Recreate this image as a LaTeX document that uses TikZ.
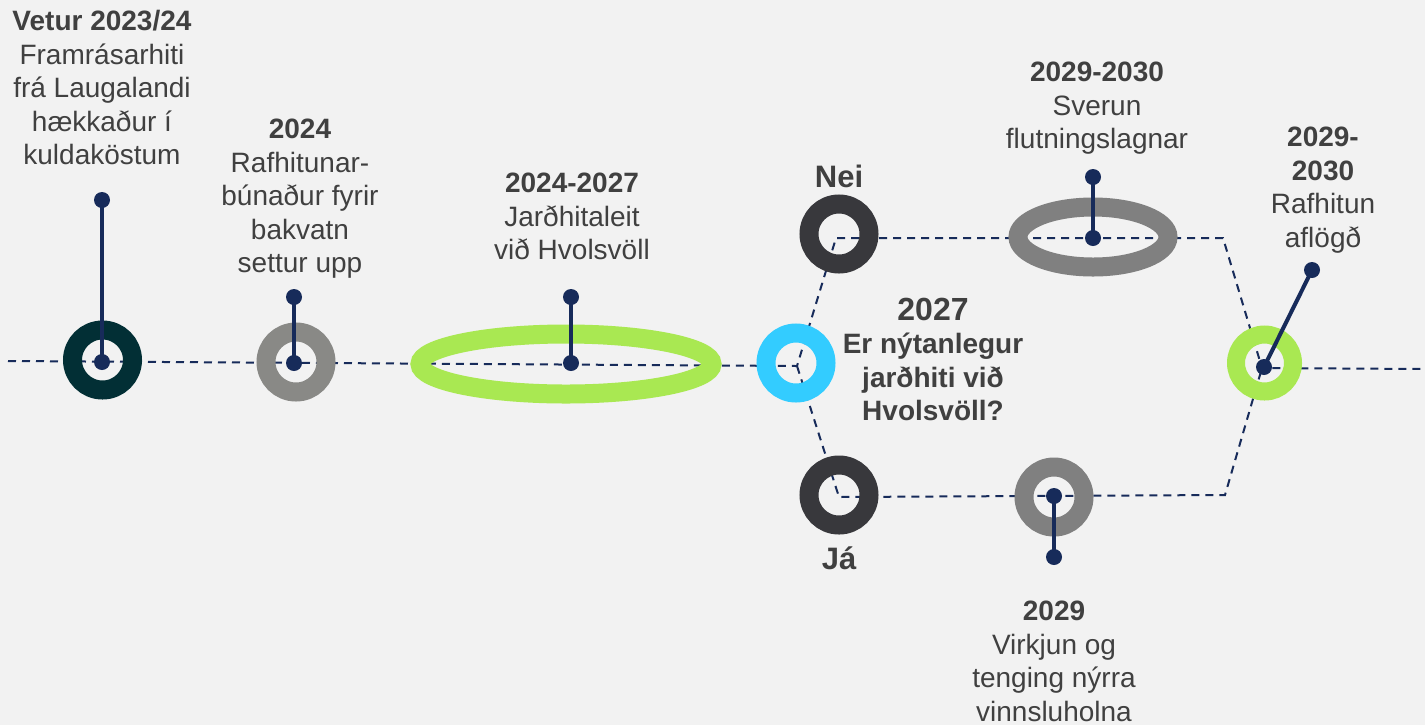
\documentclass[tikz,border=0pt]{standalone}
\usepackage{fontspec}
\setmainfont{Liberation Sans}
\usetikzlibrary{shapes.geometric}

\definecolor{navy}{HTML}{172B5A}
\definecolor{txt}{HTML}{404040}
\definecolor{bgrey}{HTML}{F2F2F2}
\definecolor{ringteal}{HTML}{022F35}
\definecolor{ringgrey}{HTML}{898986}
\definecolor{ovalgrey}{HTML}{808080}
\definecolor{ringgreen}{HTML}{A9E852}
\definecolor{ringblue}{HTML}{33CCFF}
\definecolor{ringdark}{HTML}{38383C}

\tikzset{
	ring/.style={circle,draw=#1,line width=9.5pt,minimum size=30pt,inner sep=0pt},
	oval/.style={ellipse,draw=#1,line width=9.5pt,inner sep=0pt},
	pin/.style={navy,line width=2pt},
	track/.style={navy,line width=1pt,dash pattern=on 4pt off 3pt},
	lbl/.style={text=txt,align=center,anchor=north,inner sep=0pt,font=\fontsize{14}{16.75}\selectfont},
	big/.style={text=txt,anchor=north,inner sep=0pt,font=\fontsize{15.5}{18}\selectfont\bfseries},
}

\begin{document}
\begin{tikzpicture}[x=0.5pt,y=-0.5pt]
	\fill[bgrey] (0,0) rectangle (1425,725);
	\useasboundingbox (0,0) rectangle (1425,725);

	% the time line and its two branches
	\coordinate (L) at (8,361);
	\coordinate (fork) at (797,366);
	\coordinate (up1) at (836,238);
	\coordinate (up2) at (1223,238);
	\coordinate (lo1) at (839,497);
	\coordinate (lo2) at (1225,495);
	\coordinate (join) at (1262,368);
	\coordinate (R) at (1425,369);
	\draw[track] (L) -- (fork) -- (up1) -- (up2) -- (join) -- (R);
	\draw[track] (fork) -- (lo1) -- (lo2) -- (join);

	% milestones
	\node[ring=ringteal] (winter) at (102.5,360) {};
	\node[ring=ringgrey] (backwater) at (296,362) {};
	\node[oval=ringgreen,minimum width=146pt,minimum height=30pt] (search) at (566,364) {};
	\node[ring=ringblue] (decide) at (796,363) {};
	\node[ring=ringdark] (no) at (839,234) {};
	\node[ring=ringdark] (yes) at (839,495) {};
	\node[oval=ovalgrey,minimum width=75pt,minimum height=30pt] (pipe) at (1093,237) {};
	\node[ring=ovalgrey] (wells) at (1054,497) {};
	\node[ring=ringgreen,line width=9pt,minimum size=28.5pt] (stop) at (1264.5,363) {};

	% pins
	\coordinate (winterTop) at (102,200);   \coordinate (winterEnd) at (102,362);
	\coordinate (backTop) at (294,297);     \coordinate (backEnd) at (294,363);
	\coordinate (searchTop) at (571,297);   \coordinate (searchEnd) at (571,363);
	\coordinate (pipeTop) at (1093,177);    \coordinate (pipeEnd) at (1093,238);
	\coordinate (wellsTop) at (1054,496);   \coordinate (wellsEnd) at (1054,557);
	\coordinate (stopTop) at (1312,270);    \coordinate (stopEnd) at (1264,367);
	\foreach \a/\b in {winterTop/winterEnd,backTop/backEnd,searchTop/searchEnd,pipeTop/pipeEnd,wellsTop/wellsEnd,stopTop/stopEnd}{
		\draw[pin] (\a) -- (\b);
		\fill[navy] (\a) circle (4pt) (\b) circle (4pt);
	}

	% labels
	\node[lbl] (winterTxt) at (102,10) {\textbf{Vetur 2023/24}\\Framrásarhiti\\frá Laugalandi\\hækkaður í\\kuldaköstum};
	\node[lbl] (backTxt) at (300,119) {\textbf{2024}\\Rafhitunar-\\búnaður fyrir\\bakvatn\\settur upp};
	\node[lbl] (searchTxt) at (572,173) {\textbf{2024-2027}\\Jarðhitaleit\\við Hvolsvöll};
	\node[big] (noTxt) at (839,165) {Nei};
	\node[lbl,font=\fontsize{14}{16.6}\selectfont\bfseries] (decideTxt) at (933,298) {{\fontsize{16}{16.6}\selectfont 2027}\\Er nýtanlegur\\jarðhiti við\\Hvolsvöll?};
	\node[lbl] (pipeTxt) at (1097,62) {\textbf{2029-2030}\\Sverun\\flutningslagnar};
	\node[lbl] (stopTxt) at (1323,127) {\textbf{2029-}\\\textbf{2030}\\Rafhitun\\aflögð};
	\node[big] (yesTxt) at (839,546) {Já};
	\node[lbl] (wellsTxt) at (1054,601) {\textbf{2029}\\Virkjun og\\tenging nýrra\\vinnsluholna};
\end{tikzpicture}
\end{document}
